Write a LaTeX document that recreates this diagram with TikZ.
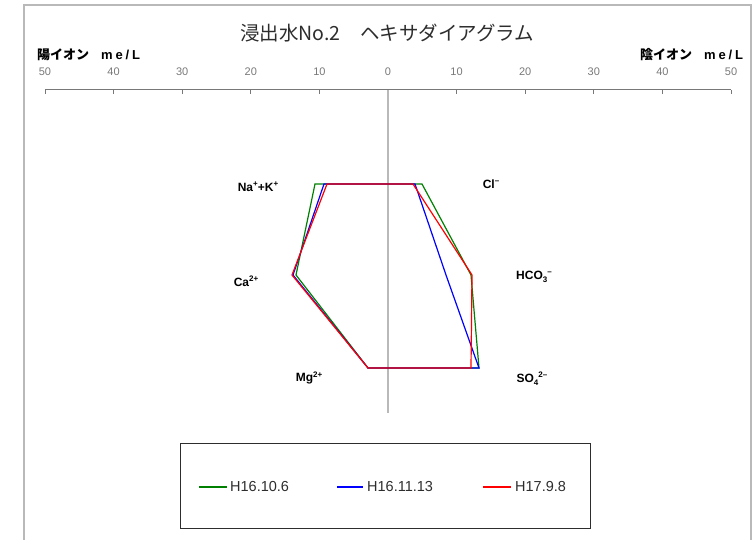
\documentclass[tikz,border=0pt]{standalone}
\usepackage{fontspec}
\setmainfont{Liberation Sans}
\newfontfamily\jp{Noto Sans CJK JP}
\newfontfamily\unitfont[LetterSpace=22]{Liberation Sans}
\definecolor{framegray}{RGB}{185,185,185}
\definecolor{axisgray}{RGB}{120,120,120}
\definecolor{numgray}{RGB}{120,120,120}
\definecolor{txtgray}{RGB}{45,45,45}
\definecolor{sgreen}{RGB}{0,128,0}
\definecolor{sblue}{RGB}{0,0,255}
\definecolor{sred}{RGB}{255,0,0}
\newcommand{\ionsup}[1]{\raisebox{0.75ex}{\fontsize{8}{9}\selectfont\bfseries #1}}
\newcommand{\ionsub}[1]{\raisebox{-0.45ex}{\fontsize{8}{9}\selectfont\bfseries #1}}
\tikzset{
  ionlabel/.style={font=\fontsize{12}{13}\selectfont\bfseries, text=black, inner sep=0pt},
  axnum/.style={font=\fontsize{11}{12}\selectfont, text=numgray, inner sep=0pt},
  unitlabel/.style={font=\fontsize{13}{15}\selectfont\bfseries, text=black, inner sep=0pt},
  legtext/.style={font=\fontsize{14.5}{16}\selectfont, text=txtgray, inner sep=0pt, anchor=west},
  series/.style={line width=1.2pt, line join=miter},
}
\begin{document}
\begin{tikzpicture}[x=1pt,y=-1pt]
\useasboundingbox (0,0) rectangle (753,540);
% outer frame (open at bottom)
\draw[framegray, line width=2pt] (24,545) -- (24,5) -- (751,5) -- (751,545);
% title
\node[font=\jp\fontsize{19.5}{21}\selectfont, text=txtgray, inner sep=0pt] (title) at (387,33) {浸出水No.2　ヘキサダイアグラム};
% unit labels
\node[unitlabel, anchor=west] (catunit) at (37,55) {\jp 陽イオン};
\node[unitlabel, anchor=west] (catme) at (101,55) {\unitfont me/L};
\node[unitlabel, anchor=west] (anunit) at (640,55) {\jp 陰イオン};
\node[unitlabel, anchor=west] (anme) at (704,55) {\unitfont me/L};
% horizontal axis
\coordinate (axL) at (45,90);
\coordinate (axR) at (731,90);
\draw[axisgray, line width=1pt] (axL) -- (axR);
\foreach \v in {-50,-40,-30,-20,-10,10,20,30,40,50}{
  \pgfmathsetmacro{\xx}{388+6.86*\v}
  \draw[axisgray, line width=0.8pt] (\xx,90) -- (\xx,94);
}
\foreach \v/\t in {-50/50,-40/40,-30/30,-20/20,-10/10,0/0,10/10,20/20,30/30,40/40,50/50}{
  \pgfmathsetmacro{\xx}{388+6.86*\v}
  \node[axnum] at (\xx,72) {\t};
}
% vertical axis
\coordinate (vtop) at (388,90);
\coordinate (vbot) at (388,413);
\draw[framegray, line width=2pt] (vtop) -- (vbot);
% series coordinates
\coordinate (gNa) at (315,184); \coordinate (gCa) at (296,275); \coordinate (gMg) at (368,368);
\coordinate (gSO) at (479,368); \coordinate (gHC) at (471,275); \coordinate (gCl) at (422,184);
\coordinate (bNa) at (324,184); \coordinate (bCa) at (293,275); \coordinate (bMg) at (368,368);
\coordinate (bSO) at (479,368); \coordinate (bHC) at (446,275); \coordinate (bCl) at (415,184);
\coordinate (rNa) at (327,184); \coordinate (rCa) at (292,275); \coordinate (rMg) at (368,368);
\coordinate (rSO) at (471,368); \coordinate (rHC) at (472,275); \coordinate (rCl) at (413,184);
\draw[series, sgreen] (gNa) -- (gCa) -- (gMg) -- (gSO) -- (gHC) -- (gCl) -- cycle;
\draw[series, sblue] (bNa) -- (bCa) -- (bMg) -- (bSO) -- (bHC) -- (bCl) -- cycle;
\draw[series, sred] (rNa) -- (rCa) -- (rMg) -- (rSO) -- (rHC) -- (rCl) -- cycle;
% ion labels
\node[ionlabel] (na) at (258,187) {Na\ionsup{+}+K\ionsup{+}};
\node[ionlabel] (ca) at (246,281) {Ca\ionsup{2+}};
\node[ionlabel] (mg) at (309,378) {Mg\ionsup{2+}};
\node[ionlabel] (cl) at (491,184) {Cl\ionsup{--}};
\node[ionlabel] (hc) at (534,277) {HCO\ionsub{3}\ionsup{--}};
\node[ionlabel] (so) at (532,379) {SO\ionsub{4}\ionsup{2--}};
% legend
\node[draw=txtgray, line width=1pt, minimum width=410pt, minimum height=85pt, inner sep=0pt] (legend) at (385,485.5) {};
\coordinate (l1a) at (199,487); \coordinate (l1b) at (227,487);
\coordinate (l2a) at (337,487); \coordinate (l2b) at (363,487);
\coordinate (l3a) at (483,487); \coordinate (l3b) at (511,487);
\draw[sgreen, line width=1.2pt] (l1a) -- (l1b);
\draw[sblue, line width=1.2pt] (l2a) -- (l2b);
\draw[sred, line width=1.2pt] (l3a) -- (l3b);
\node[legtext] (t1) at (230,487) {H16.10.6};
\node[legtext] (t2) at (367,487) {H16.11.13};
\node[legtext] (t3) at (515,487) {H17.9.8};
\end{tikzpicture}
\end{document}
